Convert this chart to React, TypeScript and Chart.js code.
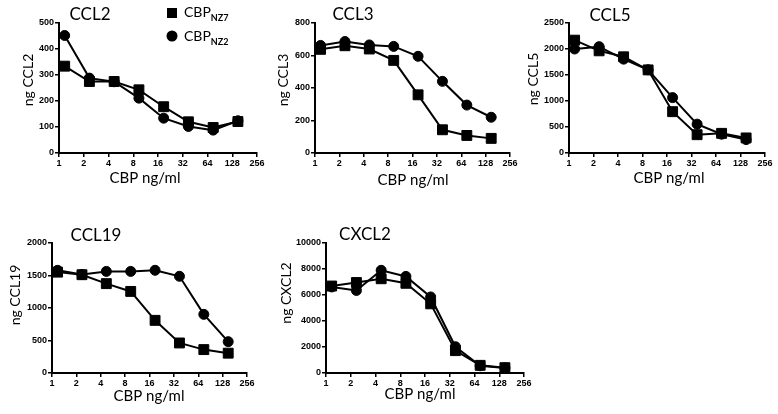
import React, { useEffect, useRef } from "react";
import { Chart, registerables } from "chart.js";

Chart.register(...registerables);

const W = 778;
const H = 414;
const YW = 40; // fixed y-axis box width
const XH = 22; // fixed x-axis box height

// ---- data ----
const doses = [1.171875, 2.34375, 4.6875, 9.375, 18.75, 37.5, 75, 150];
const xTickValues = [1, 2, 4, 8, 16, 32, 64, 128, 256];
const xAxisLabel = "CBP ng/ml";
const legendMain = ["CBP", "CBP"];
const legendSub = ["NZ7", "NZ2"];

const ccl2NZ7 = [334, 275, 275, 243, 178, 120, 98, 121];
const ccl2NZ2 = [452, 288, 274, 211, 134, 102, 88, 124];
const ccl2Ticks = [0, 100, 200, 300, 400, 500];

const ccl3NZ7 = [638, 660, 640, 570, 358, 143, 108, 90];
const ccl3NZ2 = [662, 686, 665, 656, 595, 441, 295, 220];
const ccl3Ticks = [0, 200, 400, 600, 800];

const ccl5NZ7 = [2170, 1965, 1850, 1598, 795, 352, 378, 290];
const ccl5NZ2 = [2000, 2045, 1805, 1600, 1065, 555, 362, 258];
const ccl5Ticks = [0, 500, 1000, 1500, 2000, 2500];

const ccl19NZ7 = [1552, 1512, 1375, 1255, 810, 462, 360, 305];
const ccl19NZ2 = [1580, 1515, 1563, 1563, 1580, 1488, 902, 482];
const ccl19Ticks = [0, 500, 1000, 1500, 2000];

const cxcl2NZ7 = [6690, 6960, 7250, 6900, 5320, 1720, 590, 410];
const cxcl2NZ2 = [6620, 6350, 7900, 7430, 5850, 2020, 560, 390];
const cxcl2Ticks = [0, 2000, 4000, 6000, 8000, 10000];

type Panel = {
  title: string;
  yLabel: string;
  nz7: number[];
  nz2: number[];
  yTicks: number[];
  area: { left: number; right: number; top: number; bottom: number };
  titlePos: [number, number];
  yLabelPos: [number, number];
  xLabelPos: [number, number];
  legend?: boolean;
};

const panels: Panel[] = [
  {
    title: "CCL2", yLabel: "ng CCL2", nz7: ccl2NZ7, nz2: ccl2NZ2, yTicks: ccl2Ticks,
    area: { left: 59, right: 257, top: 23, bottom: 153 },
    titlePos: [90, 20], yLabelPos: [33, 80], xLabelPos: [145, 183], legend: true,
  },
  {
    title: "CCL3", yLabel: "ng CCL3", nz7: ccl3NZ7, nz2: ccl3NZ2, yTicks: ccl3Ticks,
    area: { left: 315, right: 510, top: 23, bottom: 153 },
    titlePos: [353, 20], yLabelPos: [288, 80], xLabelPos: [413, 185],
  },
  {
    title: "CCL5", yLabel: "ng CCL5", nz7: ccl5NZ7, nz2: ccl5NZ2, yTicks: ccl5Ticks,
    area: { left: 569, right: 765, top: 23, bottom: 153 },
    titlePos: [610, 21], yLabelPos: [538, 79], xLabelPos: [669, 183],
  },
  {
    title: "CCL19", yLabel: "ng CCL19", nz7: ccl19NZ7, nz2: ccl19NZ2, yTicks: ccl19Ticks,
    area: { left: 52, right: 247, top: 243, bottom: 373 },
    titlePos: [96, 241], yLabelPos: [20, 295], xLabelPos: [149, 401],
  },
  {
    title: "CXCL2", yLabel: "ng CXCL2", nz7: cxcl2NZ7, nz2: cxcl2NZ2, yTicks: cxcl2Ticks,
    area: { left: 326, right: 524, top: 243, bottom: 373 },
    titlePos: [365, 240], yLabelPos: [291, 293], xLabelPos: [420, 399],
  },
];

const tickFont = { family: "'Liberation Sans', Arial, sans-serif", size: 9, weight: "bold" as const };

function PanelChart({ p }: { p: Panel }) {
  const ref = useRef<HTMLCanvasElement>(null);
  useEffect(() => {
    if (!ref.current) return;
    const textPlugin = {
      id: "panelText",
      afterDraw(chart: any) {
        const ctx: CanvasRenderingContext2D = chart.ctx;
        ctx.save();
        ctx.fillStyle = "#000";
        ctx.textAlign = "center";
        ctx.textBaseline = "alphabetic";
        ctx.font = "17px Lato";
        ctx.fillText(p.title, p.titlePos[0], p.titlePos[1]);
        ctx.font = "15px Lato";
        ctx.fillText(xAxisLabel, p.xLabelPos[0], p.xLabelPos[1]);
        ctx.save();
        ctx.translate(p.yLabelPos[0], p.yLabelPos[1]);
        ctx.rotate(-Math.PI / 2);
        ctx.font = "14px Lato";
        ctx.fillText(p.yLabel, 0, 0);
        ctx.restore();
        if (p.legend) {
          const ds = chart.data.datasets;
          const rows = [
            { cy: 13, base: 17 },
            { cy: 36, base: 41 },
          ];
          ds.forEach((d: any, i: number) => {
            const r = rows[i];
            const mx = 172;
            ctx.fillStyle = "#000";
            if (d.pointStyle === "rect") {
              ctx.fillRect(mx - 5, r.cy - 5, 10, 10);
            } else {
              ctx.beginPath();
              ctx.arc(mx, r.cy, 5.5, 0, Math.PI * 2);
              ctx.fill();
            }
            ctx.textAlign = "left";
            ctx.font = "14px Lato";
            ctx.fillText(legendMain[i], 184, r.base);
            const w = ctx.measureText(legendMain[i]).width;
            ctx.font = "bold 9px Lato";
            ctx.fillText(legendSub[i], 184 + w, r.base + 4);
          });
        }
        ctx.restore();
      },
    };
    const a = p.area;
    const chart = new Chart(ref.current, {
      type: "line",
      data: {
        datasets: [
          {
            label: legendMain[0] + " " + legendSub[0],
            data: doses.map((x, i) => ({ x, y: p.nz7[i] })),
            borderColor: "#000",
            backgroundColor: "#000",
            borderWidth: 2,
            pointStyle: "rect",
            pointRadius: 7,
            pointBorderWidth: 1,
            pointBackgroundColor: "#000",
            pointBorderColor: "#000",
            tension: 0,
            clip: false,
          } as any,
          {
            label: legendMain[1] + " " + legendSub[1],
            data: doses.map((x, i) => ({ x, y: p.nz2[i] })),
            borderColor: "#000",
            backgroundColor: "#000",
            borderWidth: 2,
            pointStyle: "circle",
            pointRadius: 5,
            pointBorderWidth: 1,
            pointBackgroundColor: "#000",
            pointBorderColor: "#000",
            tension: 0,
            clip: false,
          } as any,
        ],
      },
      options: {
        responsive: false,
        animation: false,
        devicePixelRatio: 1,
        events: [],
        layout: {
          padding: {
            left: a.left - YW,
            top: a.top,
            right: W - a.right,
            bottom: H - a.bottom - XH,
          },
        },
        plugins: {
          legend: { display: false },
          tooltip: { enabled: false },
          title: { display: false },
        },
        scales: {
          x: {
            type: "logarithmic",
            position: "bottom",
            min: 1,
            max: 256,
            afterBuildTicks: (s: any) => {
              s.ticks = xTickValues.map((v) => ({ value: v }));
            },
            afterFit: (s: any) => {
              s.height = XH;
            },
            ticks: {
              callback: (v: any) => String(v),
              font: tickFont,
              color: "#000",
              padding: 1,
              maxRotation: 0,
              autoSkip: false,
            },
            grid: { drawOnChartArea: false, drawTicks: true, tickLength: 4, color: "#000", lineWidth: 1.5 },
            border: { display: true, color: "#000", width: 2 },
          },
          y: {
            type: "linear",
            min: p.yTicks[0],
            max: p.yTicks[p.yTicks.length - 1],
            afterBuildTicks: (s: any) => {
              s.ticks = p.yTicks.map((v) => ({ value: v }));
            },
            afterFit: (s: any) => {
              s.width = YW;
            },
            ticks: {
              callback: (v: any) => String(v),
              font: tickFont,
              color: "#000",
              padding: 1,
              autoSkip: false,
            },
            grid: { drawOnChartArea: false, drawTicks: true, tickLength: 4, color: "#000", lineWidth: 1.5 },
            border: { display: true, color: "#000", width: 2 },
          },
        },
      } as any,
      plugins: [textPlugin],
    });
    return () => chart.destroy();
  }, [p]);
  return (
    <canvas
      ref={ref}
      width={W}
      height={H}
      style={{ position: "absolute", left: 0, top: 0, width: W, height: H }}
    />
  );
}

export default function App() {
  return (
    <div style={{ position: "absolute", left: 0, top: 0, width: W, height: H, background: "#fff", overflow: "hidden" }}>
      {panels.map((p) => (
        <PanelChart key={p.title} p={p} />
      ))}
    </div>
  );
}
